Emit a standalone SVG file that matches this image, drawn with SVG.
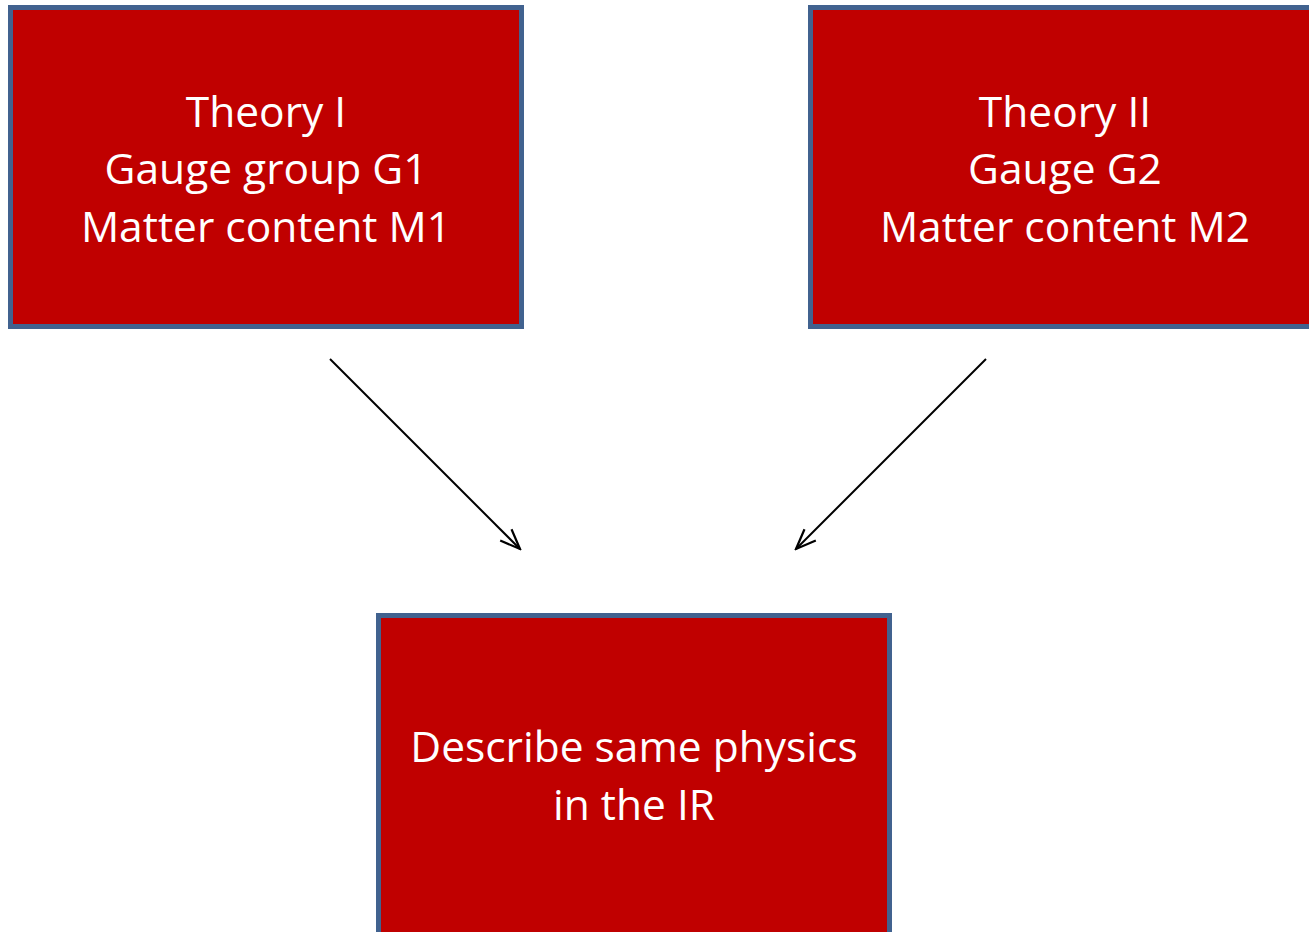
<svg xmlns="http://www.w3.org/2000/svg" width="1309" height="932" viewBox="0 0 1309 932">
<defs>
<style>
.box{fill:#c00000;stroke:#41628f;stroke-width:5}
.t{font-family:"Open Sans","Noto Sans",sans-serif;font-size:42.5px;fill:#ffffff;text-anchor:middle}
.c{stroke:#000;stroke-width:2;fill:none}
</style>
<marker id="ah2" viewBox="0 0 24 24" refX="22" refY="12" markerWidth="24" markerHeight="24" markerUnits="userSpaceOnUse" orient="auto">
<path d="M2,4 L22,12 L2,20" fill="none" stroke="#000" stroke-width="2.2"/>
</marker>
</defs>
<rect width="1309" height="932" fill="#ffffff"/>
<g id="theory1">
<rect class="box" x="10.5" y="7.5" width="511" height="319"/>
<text class="t" x="266" y="127">Theory I</text>
<text class="t" x="266" y="184">Gauge group G1</text>
<text class="t" x="266" y="242">Matter content M1</text>
</g>
<g id="theory2">
<rect class="box" x="810.5" y="7.5" width="510" height="319"/>
<text class="t" x="1065" y="127">Theory II</text>
<text class="t" x="1065" y="184">Gauge G2</text>
<text class="t" x="1065" y="242">Matter content M2</text>
</g>
<g id="ir">
<rect class="box" x="378.5" y="615.5" width="511" height="330"/>
<text class="t" x="634" y="762">Describe same physics</text>
<text class="t" x="634" y="820">in the IR</text>
</g>
<g id="connectors">
<line class="c" x1="330" y1="359" x2="520" y2="549" marker-end="url(#ah2)"/>
<line class="c" x1="986" y1="359" x2="796" y2="549" marker-end="url(#ah2)"/>
</g>
</svg>
